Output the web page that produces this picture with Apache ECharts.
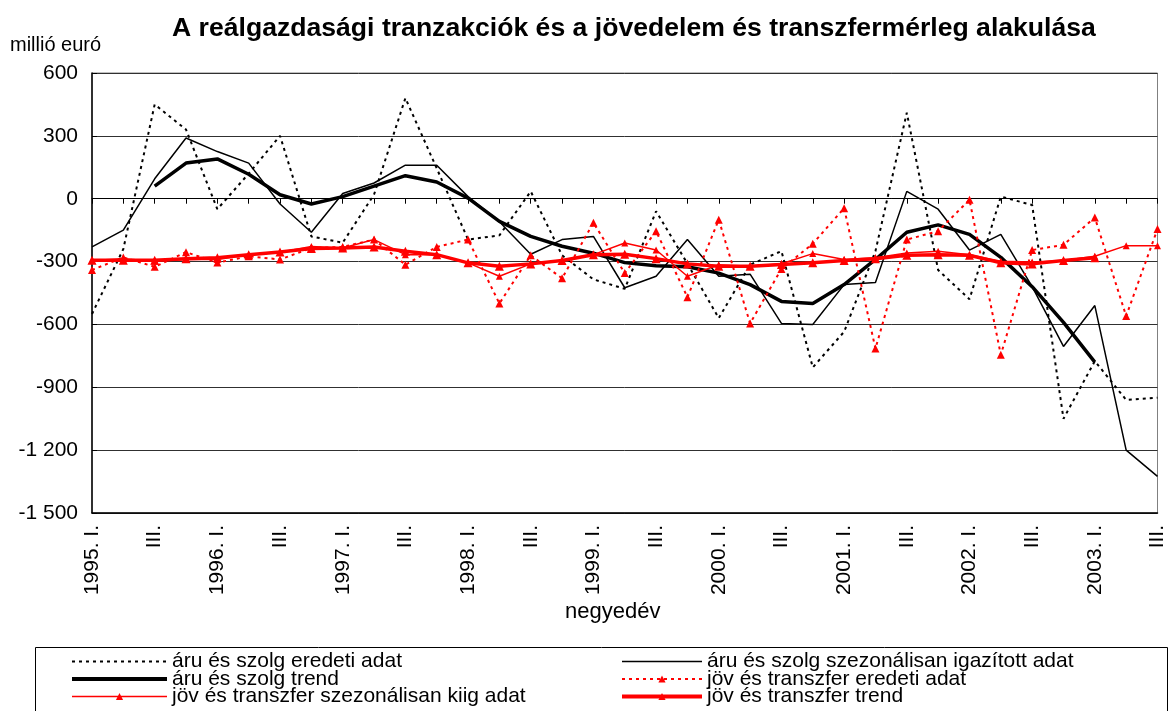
<!DOCTYPE html>
<html>
<head>
<meta charset="UTF-8">
<title>reálgazdasági tranzakciók</title>
<script src="https://cdn.jsdelivr.net/npm/echarts@6/dist/echarts.min.js"></script>
<style>
  html, body { margin: 0; padding: 0; background: #fff; }
  #main { width: 1168px; height: 711px; }
</style>
</head>
<body>
<div id="main"></div>
<script>
// negyedévek 1995. I. - 2003. III.
var negyedev = [
  '1995. I.', 'II.', 'III.', 'IV.',
  '1996. I.', 'II.', 'III.', 'IV.',
  '1997. I.', 'II.', 'III.', 'IV.',
  '1998. I.', 'II.', 'III.', 'IV.',
  '1999. I.', 'II.', 'III.', 'IV.',
  '2000. I.', 'II.', 'III.', 'IV.',
  '2001. I.', 'II.', 'III.', 'IV.',
  '2002. I.', 'II.', 'III.', 'IV.',
  '2003. I.', 'II.', 'III.'
];

// áru és szolg (millió euró)
var aruEredeti = [-550, -240, 450, 330, -50, 120, 300, -180, -210, 20, 480, 145,
  -195, -175, 35, -270, -385, -430, -60, -310, -570, -315, -250, -805,
  -635, -250, 410, -340, -480, 10, -30, -1050, -775, -960, -950];
var aruSzezon = [-230, -150, 95, 290, 225, 170, -25, -160, 25, 75, 160, 160,
  10, -110, -265, -195, -180, -425, -370, -195, -370, -360, -595, -600,
  -410, -400, 35, -50, -245, -170, -420, -705, -510, -1200, -1325];
var aruTrend = [null, null, 60, 170, 190, 117, 19, -25, 10, 60, 110, 80,
  3, -108, -180, -227, -260, -305, -320, -325, -355, -410, -490, -500,
  -410, -290, -160, -125, -170, -280, -420, -590, -780, null, null];

// jöv és transzfer (millió euró)
var jovEredeti = [-340, -280, -325, -255, -305, -275, -290, -235, -230, -195, -315, -230,
  -195, -500, -270, -380, -115, -355, -155, -470, -100, -595, -335, -215,
  -45, -715, -195, -155, -5, -745, -245, -220, -90, -560, -145];
var jovSzezon = [-295, -287, -298, -290, -290, -268, -255, -228, -235, -195, -267, -267,
  -306, -370, -311, -295, -267, -211, -245, -370, -315, -322, -310, -262,
  -290, -282, -259, -251, -267, -298, -302, -295, -275, -224, -224];
var jovTrend = [-294, -294, -294, -286, -282, -267, -254, -238, -235, -230, -251, -267,
  -306, -322, -311, -295, -267, -265, -286, -311, -322, -322, -314, -306,
  -295, -286, -270, -267, -270, -306, -311, -295, -282, null, null];

var betu = 'Liberation Sans, Arial, sans-serif';

function ezres(v) {
  var s = String(Math.abs(v));
  if (s.length > 3) s = s.slice(0, s.length - 3) + ' ' + s.slice(s.length - 3);
  return (v < 0 ? '-' : '') + s;
}

// jelmagyarázat elem: vonal vastagsága, fekete sorozatnál jelölő nélkül
function jel(nev, vastag, tipus, nincs) {
  var d = { name: nev, lineStyle: { width: vastag, type: tipus || 'solid' } };
  if (nincs) d.itemStyle = { opacity: 0 };
  return d;
}

var myChart = echarts.init(document.getElementById('main'));

var option = {
  animation: false,
  backgroundColor: '#fff',
  textStyle: { fontFamily: betu, color: '#000' },
  title: {
    text: 'A reálgazdasági tranzakciók és a jövedelem és transzfermérleg alakulása',
    left: 167,
    top: 10,
    textStyle: { fontFamily: betu, fontSize: 26.6, fontWeight: 'bold', color: '#000' }
  },
  graphic: [
    {
      type: 'text', left: 10, top: 35,
      style: { text: 'millió euró', font: '20px ' + betu, fill: '#000' }
    },
    {
      type: 'text', left: 565, top: 601,
      style: { text: 'negyedév', font: '22px ' + betu, fill: '#000' }
    },
    {
      type: 'rect', left: 33, top: 645, z: -1,
      shape: { width: 1132, height: 80 },
      style: { fill: 'none', stroke: '#000', lineWidth: 1 }
    }
  ],
  legend: [
    {
      orient: 'vertical', left: 70, top: 651, height: 150, itemGap: -3.5, padding: 0,
      itemWidth: 95, itemHeight: 9,
      textStyle: { fontFamily: betu, fontSize: 21, color: '#000' },
      data: [jel('áru és szolg eredeti adat', 2, [3, 4], true),
        jel('áru és szolg trend', 4, 'solid', true),
        jel('jöv és transzfer szezonálisan kiig adat', 1.5)]
    },
    {
      orient: 'vertical', left: 620, top: 651, height: 150, itemGap: -3.5, padding: 0,
      itemWidth: 80, itemHeight: 9,
      textStyle: { fontFamily: betu, fontSize: 21, color: '#000' },
      data: [jel('áru és szolg szezonálisan igazított adat', 1.5, 'solid', true),
        jel('jöv és transzfer eredeti adat', 2, [3, 4]),
        jel('jöv és transzfer trend', 4)]
    }
  ],
  grid: {
    left: 92, right: 5, top: 73, bottom: 198,
    show: true, borderColor: '#808080', borderWidth: 1
  },
  xAxis: [
    {
      type: 'category',
      data: negyedev,
      boundaryGap: false,
      position: 'bottom',
      axisLine: { onZero: false, lineStyle: { color: '#000', width: 1.5 } },
      axisTick: { show: false },
      axisLabel: {
        interval: 1, rotate: 90, margin: 12,
        fontFamily: betu, fontSize: 21, color: '#000'
      },
      splitLine: { show: false }
    },
    {
      type: 'category',
      data: negyedev,
      boundaryGap: false,
      position: 'top',
      axisLine: { onZero: true, lineStyle: { color: '#000', width: 1 } },
      axisTick: { show: true, inside: true, interval: 0, length: 5, lineStyle: { color: '#000' } },
      axisLabel: { show: false },
      splitLine: { show: false }
    }
  ],
  yAxis: {
    type: 'value',
    min: -1500, max: 600, interval: 300,
    axisLine: { show: true, lineStyle: { color: '#000', width: 1.5 } },
    axisTick: { show: true, inside: true, length: 5, lineStyle: { color: '#000' } },
    axisLabel: {
      margin: 14, fontFamily: betu, fontSize: 21, color: '#000',
      formatter: ezres
    },
    splitLine: { lineStyle: { color: '#303030', width: 1 } }
  },
  series: [
    {
      name: 'áru és szolg eredeti adat', type: 'line', data: aruEredeti,
      symbol: 'none', color: '#000',
      lineStyle: { color: '#000', width: 2, type: [3, 4] }
    },
    {
      name: 'áru és szolg szezonálisan igazított adat', type: 'line', data: aruSzezon,
      symbol: 'none', color: '#000',
      lineStyle: { color: '#000', width: 1.5 }
    },
    {
      name: 'áru és szolg trend', type: 'line', data: aruTrend,
      symbol: 'none', color: '#000',
      lineStyle: { color: '#000', width: 3.5 }
    },
    {
      name: 'jöv és transzfer eredeti adat', type: 'line', data: jovEredeti,
      symbol: 'triangle', symbolSize: 8, color: '#ff0000',
      lineStyle: { color: '#ff0000', width: 2, type: [3, 4] }
    },
    {
      name: 'jöv és transzfer szezonálisan kiig adat', type: 'line', data: jovSzezon,
      symbol: 'triangle', symbolSize: 7, color: '#ff0000',
      lineStyle: { color: '#ff0000', width: 1.5 }
    },
    {
      name: 'jöv és transzfer trend', type: 'line', data: jovTrend,
      symbol: 'triangle', symbolSize: 9, color: '#ff0000',
      lineStyle: { color: '#ff0000', width: 3.5 }
    }
  ]
};

myChart.setOption(option);
</script>
</body>
</html>
